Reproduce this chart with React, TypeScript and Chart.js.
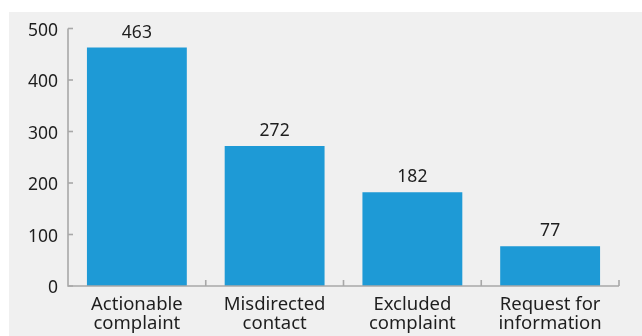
import React, { useEffect, useRef } from "react";
import { Chart, registerables } from "chart.js";

Chart.register(...registerables);

const categories: string[][] = [
  ["Actionable", "complaint"],
  ["Misdirected", "contact"],
  ["Excluded", "complaint"],
  ["Request for", "information"],
];
const counts: number[] = [463, 272, 182, 77];
const yTicks: number[] = [0, 100, 200, 300, 400, 500];

const FONT = "'Noto Sans', sans-serif";
const AXIS_COLOR = "#a8a8a8";
const TEXT_COLOR = "#1e1e1e";

// Axis lines with inward-pointing tick marks
const axesPlugin = {
  id: "innerAxes",
  afterDatasetsDraw(chart: any) {
    const { ctx, chartArea, scales } = chart;
    const x = scales.x;
    const y = scales.y;
    ctx.save();
    ctx.strokeStyle = AXIS_COLOR;
    ctx.lineWidth = 1.6;
    ctx.lineCap = "butt";
    const left = chartArea.left;
    const bottom = y.getPixelForValue(0);
    const top = y.getPixelForValue(yTicks[yTicks.length - 1]);
    const right = chartArea.right;
    ctx.beginPath();
    ctx.moveTo(left, top);
    ctx.lineTo(left, bottom);
    ctx.lineTo(right, bottom);
    ctx.stroke();
    // y ticks
    yTicks.forEach((v) => {
      const py = y.getPixelForValue(v);
      ctx.beginPath();
      ctx.moveTo(left, py);
      ctx.lineTo(left + 5, py);
      ctx.stroke();
    });
    // x ticks at category boundaries
    for (let i = 1; i <= categories.length; i++) {
      const px = (x.getPixelForValue(i - 1) + x.getPixelForValue(i)) / 2;
      const bx = i === categories.length ? right : px;
      ctx.beginPath();
      ctx.moveTo(bx, bottom);
      ctx.lineTo(bx, bottom - 6);
      ctx.stroke();
    }
    ctx.restore();
  },
};

// Value labels above each bar
const valueLabels = {
  id: "valueLabels",
  afterDatasetsDraw(chart: any) {
    const { ctx } = chart;
    const meta = chart.getDatasetMeta(0);
    ctx.save();
    ctx.font = `17.5px ${FONT}`;
    ctx.fillStyle = TEXT_COLOR;
    ctx.textAlign = "center";
    ctx.textBaseline = "alphabetic";
    meta.data.forEach((bar: any, i: number) => {
      ctx.fillText(String(counts[i]), bar.x, bar.y - 10);
    });
    ctx.restore();
  },
};

export default function App() {
  const ref = useRef<HTMLCanvasElement | null>(null);

  useEffect(() => {
    if (!ref.current) return;
    const chart = new Chart(ref.current, {
      type: "bar",
      data: {
        labels: categories,
        datasets: [
          {
            data: counts,
            backgroundColor: "#1e9ad6",
            borderWidth: 0,
            barPercentage: 0.725,
            categoryPercentage: 1,
          },
        ],
      },
      options: {
        animation: false,
        responsive: false,
        maintainAspectRatio: false,
        layout: { padding: { top: 16.5, right: 23, left: 0, bottom: 0 } },
        plugins: {
          legend: { display: false },
          tooltip: { enabled: false },
        },
        scales: {
          x: {
            grid: { display: false, drawTicks: false },
            border: { display: false },
            ticks: {
              color: TEXT_COLOR,
              font: { family: FONT, size: 18.5, lineHeight: 1.05 },
              padding: 9,
              maxRotation: 0,
              autoSkip: false,
            },
            afterFit: (s: any) => {
              s.height = 50;
              s.paddingLeft = 0;
              s.paddingRight = 0;
            },
          },
          y: {
            min: 0,
            max: 500,
            grid: { display: false, drawTicks: false },
            border: { display: false },
            ticks: {
              stepSize: 100,
              color: TEXT_COLOR,
              font: { family: FONT, size: 17.5 },
              padding: 10,
              labelOffset: 2.5,
            },
            afterFit: (s: any) => {
              s.width = 59;
              s.paddingTop = 0;
              s.paddingBottom = 0;
            },
          },
        },
      },
      plugins: [axesPlugin, valueLabels],
    });
    return () => chart.destroy();
  }, []);

  return (
    <div
      style={{
        position: "absolute",
        left: 0,
        top: 0,
        width: 642,
        height: 336,
        background: "#ffffff",
        overflow: "hidden",
      }}
    >
      <div
        style={{
          position: "absolute",
          left: 9,
          top: 12,
          width: 633,
          height: 324,
          background: "#f0f0f0",
        }}
      >
        <canvas ref={ref} width={633} height={324} style={{ display: "block" }} />
      </div>
    </div>
  );
}
